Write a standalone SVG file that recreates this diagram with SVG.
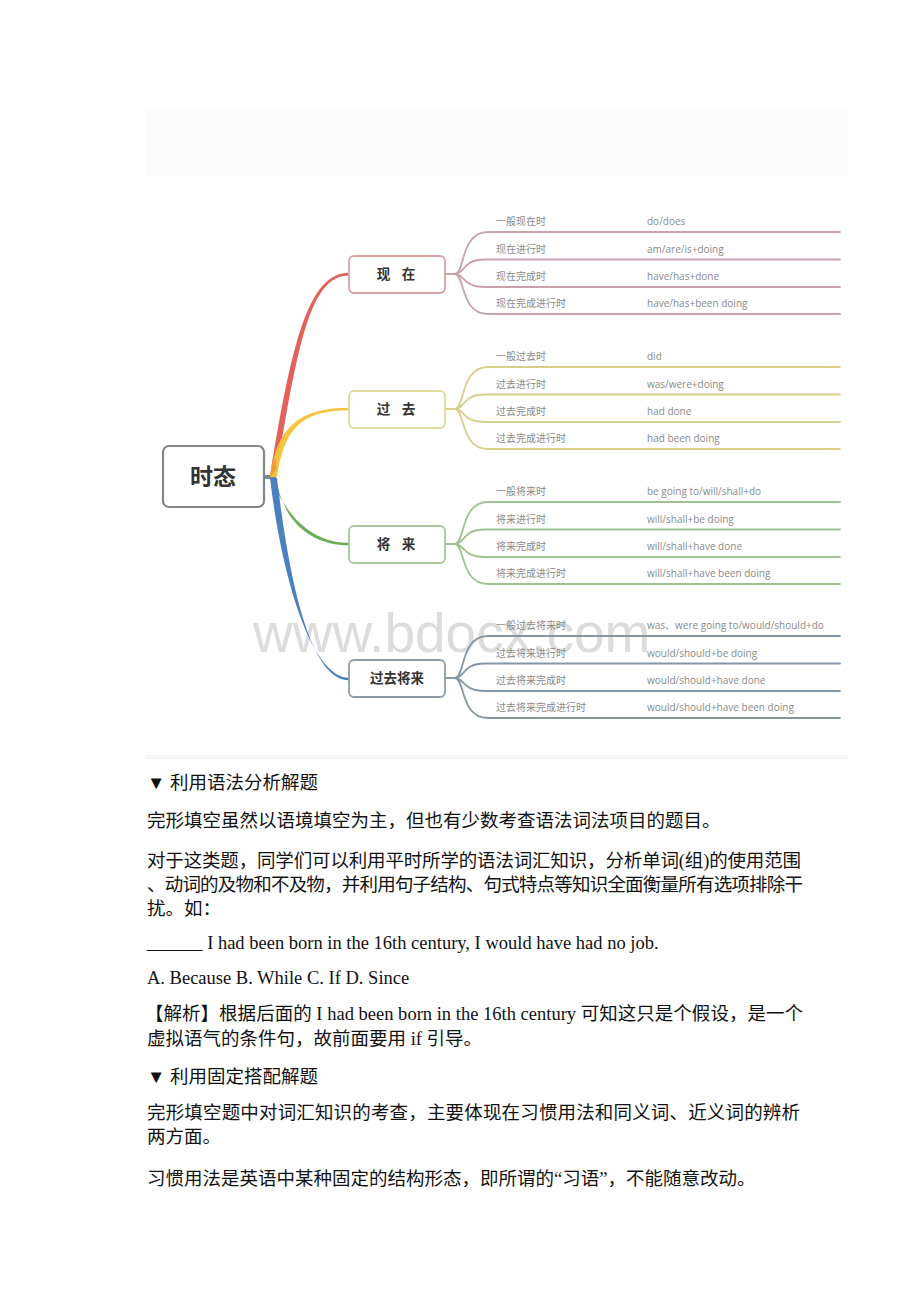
<svg xmlns="http://www.w3.org/2000/svg" width="920" height="1302" viewBox="0 0 920 1302">
<style>
.body{font-family:"Liberation Serif","Noto Sans CJK SC",serif;font-size:18.5px;fill:#111}
.leaf{font-family:"Open Sans","Noto Sans CJK SC",sans-serif;font-size:10px;fill:#8a8a8a}
.bt{font-family:"Noto Sans CJK SC",sans-serif;font-size:13.5px;font-weight:bold;fill:#333;text-anchor:middle}
.ll{fill:none;stroke-width:1.8;stroke-linecap:round}
.r{stroke:#c9a3a9}.y{stroke:#d8d08a}.g{stroke:#a0c293}.b{stroke:#8597a7}
.box{fill:#fff;stroke-width:1.8}
</style>
<rect x="0" y="0" width="920" height="1302" fill="#fff"/>
<rect x="145" y="108" width="703" height="68" fill="#fbfbfb"/>
<rect x="145" y="755" width="703" height="4" fill="#f4f4f4"/>
<text x="253" y="652" font-family="Liberation Sans,Arial,sans-serif" font-size="55" fill="#dcdcdc">www.bdocx.com</text>
<g id="connectors">
<path d="M263 477 H276" stroke="#6f8aa3" stroke-width="4" fill="none"/>
<path d="M270 476 C292 340 309 272.8 349 272.8 L349 275.4 C311 275.4 298 340 276 476 Z" fill="#e4615b"/>
<path d="M270 477 C277 428 298 407.8 349 407.8 L349 410.3 C300 410.3 284 430 277 477 Z" fill="#f4c53c"/>
<path d="M270 477 C274 455 277 452 276 470 Z" fill="#f29a35"/>
<path d="M271 478 C287 518 313 542.8 349 542.8 L349 545.3 C311 545.3 283 522 276 478 Z" fill="#6bae55"/>
<path d="M270 478 C282 580 312 677.8 349 677.8 L349 680.3 C310 680.3 289 580 277 478 Z" fill="#4b80c0"/>
<g class="r">
<path class="ll" d="M445 274 H455 C465 274 460 232 488 232 H840"/>
<path class="ll" d="M455 274 C465 274 462 259.5 485 259.5 H840"/>
<path class="ll" d="M455 274 C465 274 462 287 485 287 H840"/>
<path class="ll" d="M455 274 C465 274 460 314 488 314 H840"/>
</g>
<g class="y">
<path class="ll" d="M445 409 H455 C465 409 460 367 488 367 H840"/>
<path class="ll" d="M455 409 C465 409 462 394.5 485 394.5 H840"/>
<path class="ll" d="M455 409 C465 409 462 422 485 422 H840"/>
<path class="ll" d="M455 409 C465 409 460 449 488 449 H840"/>
</g>
<g class="g">
<path class="ll" d="M445 544 H455 C465 544 460 502 488 502 H840"/>
<path class="ll" d="M455 544 C465 544 462 529.5 485 529.5 H840"/>
<path class="ll" d="M455 544 C465 544 462 557 485 557 H840"/>
<path class="ll" d="M455 544 C465 544 460 584 488 584 H840"/>
</g>
<g class="b">
<path class="ll" d="M445 678 H455 C465 678 460 636 488 636 H840"/>
<path class="ll" d="M455 678 C465 678 462 663.5 485 663.5 H840"/>
<path class="ll" d="M455 678 C465 678 462 691 485 691 H840"/>
<path class="ll" d="M455 678 C465 678 460 718 488 718 H840"/>
</g>
</g>
<g id="root">
<rect x="163" y="446" width="101" height="61" rx="6" fill="#fff" stroke="#80868b" stroke-width="2.2"/>
<text x="213" y="485" font-family="Noto Sans CJK SC,sans-serif" font-size="23" font-weight="bold" fill="#333" text-anchor="middle">时态</text>
</g>
<g id="present">
<rect class="box" x="349" y="256" width="96" height="37" rx="5" stroke="#d9a3a6"/>
<text class="bt" y="279"><tspan x="383.5">现</tspan><tspan x="408.5">在</tspan></text>
</g>
<g id="past">
<rect class="box" x="349" y="391" width="96" height="37" rx="5" stroke="#dedb9c"/>
<text class="bt" y="414"><tspan x="383.5">过</tspan><tspan x="408.5">去</tspan></text>
</g>
<g id="future">
<rect class="box" x="349" y="526" width="96" height="37" rx="5" stroke="#a9c69c"/>
<text class="bt" y="549"><tspan x="383.5">将</tspan><tspan x="408.5">来</tspan></text>
</g>
<g id="pastfuture">
<rect class="box" x="349" y="660" width="96" height="37" rx="5" stroke="#8f9ca8"/>
<text class="bt" x="397" y="683">过去将来</text>
</g>
<g id="leaves-present" class="leaf">
<text x="496" y="225">一般现在时</text><text x="647" y="225">do/does</text>
<text x="496" y="252.5">现在进行时</text><text x="647" y="252.5">am/are/is+doing</text>
<text x="496" y="280">现在完成时</text><text x="647" y="280">have/has+done</text>
<text x="496" y="307">现在完成进行时</text><text x="647" y="307">have/has+been doing</text>
</g>
<g id="leaves-past" class="leaf">
<text x="496" y="360">一般过去时</text><text x="647" y="360">did</text>
<text x="496" y="387.5">过去进行时</text><text x="647" y="387.5">was/were+doing</text>
<text x="496" y="415">过去完成时</text><text x="647" y="415">had done</text>
<text x="496" y="442">过去完成进行时</text><text x="647" y="442">had been doing</text>
</g>
<g id="leaves-future" class="leaf">
<text x="496" y="495">一般将来时</text><text x="647" y="495">be going to/will/shall+do</text>
<text x="496" y="522.5">将来进行时</text><text x="647" y="522.5">will/shall+be doing</text>
<text x="496" y="550">将来完成时</text><text x="647" y="550">will/shall+have done</text>
<text x="496" y="577">将来完成进行时</text><text x="647" y="577">will/shall+have been doing</text>
</g>
<g id="leaves-pastfuture" class="leaf">
<text x="496" y="629">一般过去将来时</text><text x="647" y="629">was、were going to/would/should+do</text>
<text x="496" y="656.5">过去将来进行时</text><text x="647" y="656.5">would/should+be doing</text>
<text x="496" y="684">过去将来完成时</text><text x="647" y="684">would/should+have done</text>
<text x="496" y="711">过去将来完成进行时</text><text x="647" y="711">would/should+have been doing</text>
</g>
<g id="body" class="body">
<text x="147" y="789">▼ 利用语法分析解题</text>
<text x="147" y="827">完形填空虽然以语境填空为主，但也有少数考查语法词法项目的题目。</text>
<text x="147" y="867" textLength="654" lengthAdjust="spacing">对于这类题，同学们可以利用平时所学的语法词汇知识，分析单词(组)的使用范围</text>
<text x="147" y="891" textLength="656" lengthAdjust="spacing">、动词的及物和不及物，并利用句子结构、句式特点等知识全面衡量所有选项排除干</text>
<text x="147" y="915">扰。如：</text>
<text x="147" y="949">______ I had been born in the 16th century, I would have had no job.</text>
<text x="147" y="984">A. Because B. While C. If D. Since</text>
<text x="145" y="1020" textLength="658" lengthAdjust="spacing">【解析】根据后面的 I had been born in the 16th century 可知这只是个假设，是一个</text>
<text x="147" y="1045">虚拟语气的条件句，故前面要用 if 引导。</text>
<text x="147" y="1083">▼ 利用固定搭配解题</text>
<text x="147" y="1119" textLength="653" lengthAdjust="spacing">完形填空题中对词汇知识的考查，主要体现在习惯用法和同义词、近义词的辨析</text>
<text x="147" y="1143">两方面。</text>
<text x="147" y="1185">习惯用法是英语中某种固定的结构形态，即所谓的“习语”，不能随意改动。</text>
</g>
</svg>
